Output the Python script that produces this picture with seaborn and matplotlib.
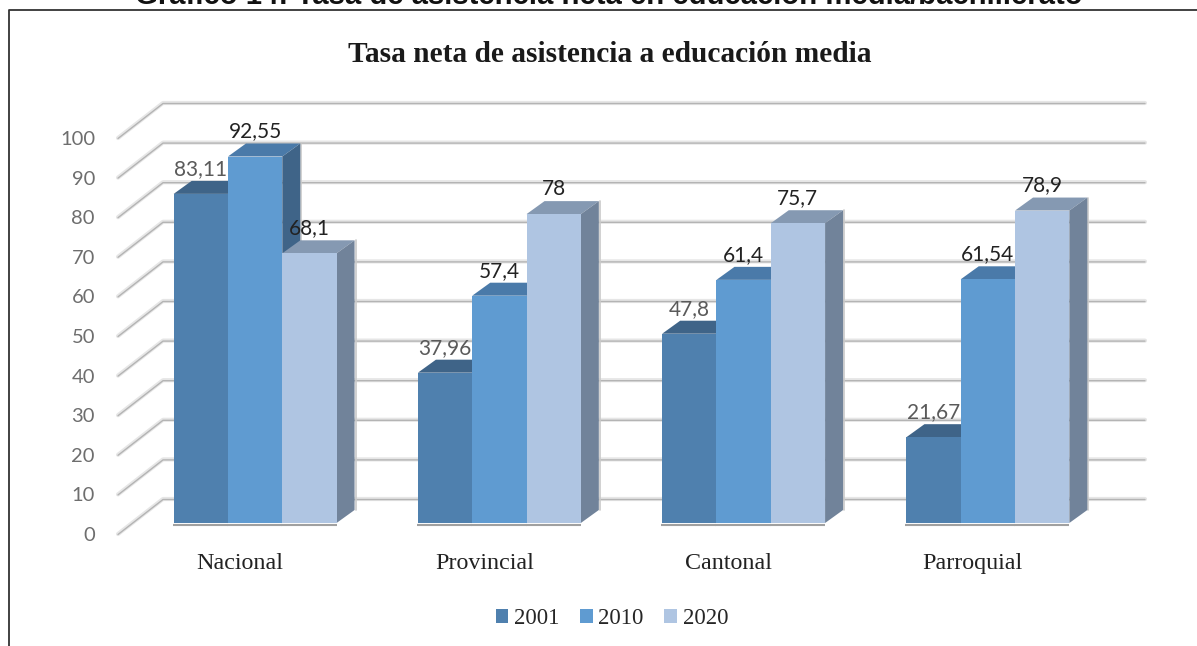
import matplotlib
matplotlib.use("Agg")
import matplotlib.pyplot as plt
import matplotlib.transforms as mtrans
from matplotlib.patches import Polygon
import pandas as pd
import seaborn as sns

categories = ["Nacional", "Provincial", "Cantonal", "Parroquial"]
years = ["2001", "2010", "2020"]
values_2001 = [83.11, 37.96, 47.8, 21.67]
values_2010 = [92.55, 57.4, 61.4, 61.54]
values_2020 = [68.1, 78, 75.7, 78.9]
labels_2001 = ["83,11", "37,96", "47,8", "21,67"]
labels_2010 = ["92,55", "57,4", "61,4", "61,54"]
labels_2020 = ["68,1", "78", "75,7", "78,9"]
y_ticks = list(range(0, 101, 10))
heading = "Gráfico 14: Tasa de asistencia neta en educación media/bachillerato"
title = "Tasa neta de asistencia a educación media"

front = ["#4F80AE", "#5F9BD1", "#AFC5E2"]
top = ["#3F6488", "#4A7AA9", "#8599B2"]
side = ["#3F6488", "#3F6488", "#71839A"]
label_colors = ["#5A5A5A", "#222222", "#222222"]

W, H = 1197, 646
sns.set_theme(style="white")
fig = plt.figure(figsize=(W / 100, H / 100), dpi=100, facecolor="white")
ax = fig.add_axes([133 / W, 1 - 523 / H, 977 / W, 396 / H])

rows = []
for y, vals in zip(years, [values_2001, values_2010, values_2020]):
    for c, v in zip(categories, vals):
        rows.append({"cat": c, "year": y, "value": v})
df = pd.DataFrame(rows)

sns.barplot(data=df, x="cat", y="value", hue="year", order=categories, hue_order=years,
            palette=front, width=0.667, gap=0, saturation=1, linewidth=0, ax=ax)
ax.set_xlim(-0.5, 3.5)
ax.set_ylim(0, 100)
ax.set_xlabel("")
ax.set_ylabel("")
for s in ax.spines.values():
    s.set_visible(False)
ax.patch.set_alpha(0)

PXX = 1 / 244.25
PXY = 100 / 396
DX, DY = 18 * PXX, 13 * PXY

# back wall and floor-side gridlines, drawn from the tick values
x_wall_l = -0.5 + (163 - 133) * PXX
x_wall_r = -0.5 + (1145 - 133) * PXX
x_front = -0.5 + (118 - 133) * PXX
wall_up = 24 * PXY
front_down = 11 * PXY
for v in y_ticks:
    yw = v + wall_up
    yf = v - front_down
    xs = [x_front, x_wall_l, x_wall_r]
    ys = [yf, yw, yw]
    ax.plot(xs, ys, color="#E6E6E6", lw=3.0, zorder=1, clip_on=False, solid_capstyle="round")
    ax.plot(xs, [p - 0.5 * PXY for p in ys], color="#B4B4B4", lw=1.0, zorder=1.1, clip_on=False)

# 3-D faces derived from the bars seaborn drew
for h, (container, labs) in enumerate(zip(ax.containers, [labels_2001, labels_2010, labels_2020])):
    for bar, lab in zip(container, labs):
        x0, w, v = bar.get_x(), bar.get_width(), bar.get_height()
        x1 = x0 + w
        z = 3 + h
        bar.set_zorder(z + 0.2)
        ax.add_patch(Polygon([(x0, v), (x1, v), (x1 + DX, v + DY), (x0 + DX, v + DY)],
                             closed=True, fc=top[h], ec="none", zorder=z, clip_on=False))
        ax.add_patch(Polygon([(x1, 0), (x1 + DX, DY), (x1 + DX, v + DY), (x1, v)],
                             closed=True, fc=side[h], ec="none", zorder=z + 0.1, clip_on=False))
        ax.plot([x1 + DX + PXX, x1 + DX + PXX], [DY, v + DY], color="#C9C9C9", lw=1.2, zorder=z, clip_on=False)
        ax.annotate(lab, (x0 + w / 2, v), xytext=(0, 25 * 0.72), textcoords="offset points",
                    ha="center", va="center", fontsize=15, family="Lato",
                    color=label_colors[h], zorder=10, annotation_clip=False)
        ax.plot([x0 - PXX, x1], [-0.4, -0.4], color="#A0A0A0", lw=1.5, zorder=z + 0.3,
                clip_on=False, solid_capstyle="butt")

# axis labels
ax.set_yticks(y_ticks, [str(v) for v in y_ticks], family="Lato", fontsize=14.5, color="#6E6E6E")
ax.tick_params(axis="y", length=0, pad=38 * 0.72)
ax.tick_params(axis="x", length=0, pad=0)
ax.set_xticks(range(len(categories)), categories, family="Liberation Serif", fontsize=17.3, color="#222222")
shift_y = mtrans.ScaledTranslation(0, -11 / 100, fig.dpi_scale_trans)
shift_x = mtrans.ScaledTranslation(-15 / 100, -30 / 100, fig.dpi_scale_trans)
for t in ax.get_yticklabels():
    t.set_transform(t.get_transform() + shift_y)
for t in ax.get_xticklabels():
    t.set_transform(t.get_transform() + shift_x)

# legend
sns.move_legend(ax, "center", bbox_to_anchor=(612 / W, 1 - 618.5 / H), bbox_transform=fig.transFigure,
                ncol=3, frameon=False, title=None, handlelength=0.55, handleheight=0.55,
                handletextpad=0.25, columnspacing=0.9, prop={"family": "Liberation Serif", "size": 16.5})

# titles
fig.text(609.5 / W, 1 - 55 / H, title, ha="center", va="center", family="Liberation Serif",
         fontweight="bold", fontsize=21.2, color="#1A1A1A")
fig.text(609 / W, 1 - 4 / H, heading, ha="center", va="baseline", family="Liberation Sans",
         fontweight="bold", fontsize=21.1, color="#111111")

# frame: left and top edges only, running off the picture
fig.add_artist(plt.Line2D([8.5 / W, 8.5 / W, 1], [0, 1 - 10 / H, 1 - 10 / H],
                          color="#333333", lw=1.3))

fig.savefig("out.png", dpi=100)
